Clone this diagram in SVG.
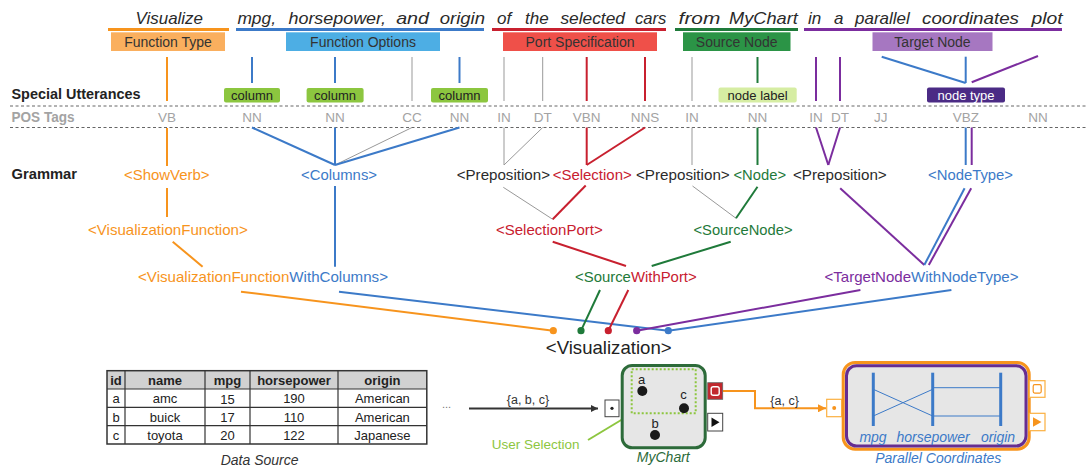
<svg xmlns="http://www.w3.org/2000/svg" width="1088" height="470" viewBox="0 0 1088 470">
<defs>
<style>
text{font-family:"Liberation Sans",Arial,sans-serif;}
.w{font-size:17px;font-style:italic;fill:#2a2a2a;}
.lb{font-size:14px;fill:#333;text-anchor:middle;}
.hd{font-size:14px;font-weight:bold;fill:#222;}
.pos{font-size:13.5px;fill:#a3a3a3;text-anchor:middle;}
.ut{font-size:13px;fill:#222;text-anchor:middle;}
.g{font-size:14.5px;}
.tb{font-size:13px;fill:#222;text-anchor:middle;}
.tbh{font-size:13px;font-weight:bold;fill:#222;text-anchor:middle;}
.o{stroke:#F7941D;}
.b{stroke:#3C7AC8;}
.r{stroke:#C8202F;}
.gr{stroke:#1F7A3A;}
.p{stroke:#7B2D9E;}
.k{stroke:#999;stroke-width:1;}
.cn line{stroke-width:2;fill:none;}
.cn line.k{stroke-width:1;}
.fo{fill:#F7941D;}.fb{fill:#3C7AC8;}.fr{fill:#C8202F;}.fg{fill:#1F7A3A;}.fp{fill:#7B2D9E;}.fd{fill:#2b2b2b;}
</style>
<marker id="ah" viewBox="0 0 10 10" refX="10" refY="5" markerWidth="7" markerHeight="7" orient="auto" markerUnits="userSpaceOnUse"><path d="M0,0L10,5L0,10z" fill="#333"/></marker>
<marker id="aho" viewBox="0 0 10 10" refX="10" refY="5" markerWidth="8" markerHeight="8" orient="auto" markerUnits="userSpaceOnUse"><path d="M0,0L10,5L0,10z" fill="#F7941D"/></marker>
</defs>

<!-- sentence -->
<g id="sentence">
<text class="w" x="135.6" y="24" textLength="67.4" lengthAdjust="spacingAndGlyphs">Visualize</text>
<text class="w" x="237.4" y="24" textLength="38.6" lengthAdjust="spacingAndGlyphs">mpg,</text>
<text class="w" x="288.5" y="24" textLength="97.5" lengthAdjust="spacingAndGlyphs">horsepower,</text>
<text class="w" x="396.2" y="24" textLength="32.8" lengthAdjust="spacingAndGlyphs">and</text>
<text class="w" x="439.7" y="24" textLength="45.3" lengthAdjust="spacingAndGlyphs">origin</text>
<text class="w" x="497" y="24">of</text>
<text class="w" x="525" y="24">the</text>
<text class="w" x="560.4" y="24" textLength="64.6" lengthAdjust="spacingAndGlyphs">selected</text>
<text class="w" x="635" y="24" textLength="31.4" lengthAdjust="spacingAndGlyphs">cars</text>
<text class="w" x="678.6" y="24" textLength="41.7" lengthAdjust="spacingAndGlyphs">from</text>
<text class="w" x="729" y="24" textLength="68.8" lengthAdjust="spacingAndGlyphs">MyChart</text>
<text class="w" x="808" y="24">in</text>
<text class="w" x="834" y="24">a</text>
<text class="w" x="855" y="24">parallel</text>
<text class="w" x="922" y="24" textLength="97" lengthAdjust="spacingAndGlyphs">coordinates</text>
<text class="w" x="1031.4" y="24" textLength="31.2" lengthAdjust="spacingAndGlyphs">plot</text>
<rect x="108" y="28" width="121" height="3" fill="#F7941D"/>
<rect x="236" y="28" width="248" height="3" fill="#3C7AC8"/>
<rect x="492" y="28" width="174" height="3" fill="#C8202F"/>
<rect x="675" y="28" width="123" height="3" fill="#1F7A3A"/>
<rect x="804" y="28" width="258" height="3" fill="#7B2D9E"/>
</g>

<g id="label-function-type"><rect x="111" y="32.3" width="114" height="18.7" fill="#FAAF5E"/><text class="lb" x="168" y="46.5">Function Type</text></g>
<g id="label-function-options"><rect x="286" y="32.3" width="154" height="18.7" fill="#4DAEE4"/><text class="lb" x="363" y="46.5">Function Options</text></g>
<g id="label-port-specification"><rect x="503" y="32.3" width="154" height="18.7" fill="#EF5049"/><text class="lb" x="580" y="46.5">Port Specification</text></g>
<g id="label-source-node"><rect x="683" y="32.3" width="107.5" height="18.7" fill="#2B9446"/><text class="lb" x="736.7" y="46.5">Source Node</text></g>
<g id="label-target-node"><rect x="872.5" y="32.3" width="120" height="18.7" fill="#A677C1"/><text class="lb" x="932.5" y="46.5">Target Node</text></g>

<!-- row headers -->
<g id="row-headers">
<text class="hd" x="11.5" y="99" textLength="129" lengthAdjust="spacingAndGlyphs">Special Utterances</text>
<text class="hd" x="11.5" y="122" style="fill:#a3a3a3" textLength="63" lengthAdjust="spacingAndGlyphs">POS Tags</text>
<text class="hd" x="11.5" y="179" textLength="65.5" lengthAdjust="spacingAndGlyphs">Grammar</text>
<line x1="10" y1="106" x2="1088" y2="106" stroke="#666" stroke-width="1" stroke-dasharray="3 2.5"/>
<line x1="10" y1="127.5" x2="1088" y2="127.5" stroke="#666" stroke-width="1" stroke-dasharray="3 2.5"/>
</g>

<!-- special utterances -->
<g id="utt-column-1"><rect x="224" y="88" width="56" height="14.5" rx="2" fill="#8CC63F"/><text class="ut" x="252" y="99.5">column</text></g>
<g id="utt-column-2"><rect x="306.6" y="88" width="57" height="14.5" rx="2" fill="#8CC63F"/><text class="ut" x="335" y="99.5">column</text></g>
<g id="utt-column-3"><rect x="431" y="88" width="57" height="14.5" rx="2" fill="#8CC63F"/><text class="ut" x="459.5" y="99.5">column</text></g>
<g id="utt-node-label"><rect x="718.5" y="87.5" width="78.2" height="15" rx="2" fill="#D6EDA3"/><text class="ut" x="757.6" y="99.5">node label</text></g>
<g id="utt-node-type"><rect x="927" y="87.5" width="78" height="15" rx="2" fill="#4B2B85"/><text class="ut" x="966" y="99.5" style="fill:#fff">node type</text></g>

<!-- POS tags -->
<g id="pos-tags">
<text class="pos" x="167" y="122">VB</text>
<text class="pos" x="252" y="122">NN</text>
<text class="pos" x="335" y="122">NN</text>
<text class="pos" x="412" y="122">CC</text>
<text class="pos" x="459.5" y="122">NN</text>
<text class="pos" x="504" y="122">IN</text>
<text class="pos" x="542.7" y="122">DT</text>
<text class="pos" x="586.7" y="122">VBN</text>
<text class="pos" x="645" y="122">NNS</text>
<text class="pos" x="692" y="122">IN</text>
<text class="pos" x="757.5" y="122">NN</text>
<text class="pos" x="816" y="122">IN</text>
<text class="pos" x="840" y="122">DT</text>
<text class="pos" x="880.7" y="122">JJ</text>
<text class="pos" x="966" y="122">VBZ</text>
<text class="pos" x="1038" y="122">NN</text>
</g>

<!-- grammar nodes -->
<g id="g-showverb"><text class="g fo" x="124" y="180.4" textLength="85.6" lengthAdjust="spacingAndGlyphs">&lt;ShowVerb&gt;</text></g>
<g id="g-columns"><text class="g fb" x="301" y="180.4" textLength="76" lengthAdjust="spacingAndGlyphs">&lt;Columns&gt;</text></g>
<g id="g-preposition-1"><text class="g fd" x="456.7" y="180.4" textLength="93.3" lengthAdjust="spacingAndGlyphs">&lt;Preposition&gt;</text></g>
<g id="g-selection"><text class="g fr" x="552.7" y="180.4" textLength="79" lengthAdjust="spacingAndGlyphs">&lt;Selection&gt;</text></g>
<g id="g-preposition-2"><text class="g fd" x="636" y="180.4" textLength="93.7" lengthAdjust="spacingAndGlyphs">&lt;Preposition&gt;</text></g>
<g id="g-node"><text class="g fg" x="733.5" y="180.4" textLength="52.5" lengthAdjust="spacingAndGlyphs">&lt;Node&gt;</text></g>
<g id="g-preposition-3"><text class="g fd" x="793" y="180.4" textLength="93.7" lengthAdjust="spacingAndGlyphs">&lt;Preposition&gt;</text></g>
<g id="g-nodetype"><text class="g fb" x="928" y="180.4" textLength="85" lengthAdjust="spacingAndGlyphs">&lt;NodeType&gt;</text></g>
<g id="g-visualizationfunction"><text class="g fo" x="88" y="235.2" textLength="159.8" lengthAdjust="spacingAndGlyphs">&lt;VisualizationFunction&gt;</text></g>
<g id="g-selectionport"><text class="g fr" x="496" y="235.2" textLength="106.7" lengthAdjust="spacingAndGlyphs">&lt;SelectionPort&gt;</text></g>
<g id="g-sourcenode"><text class="g fg" x="693.5" y="235.2" textLength="99" lengthAdjust="spacingAndGlyphs">&lt;SourceNode&gt;</text></g>
<g id="g-visfuncwithcolumns"><text class="g" x="138" y="282" textLength="250" lengthAdjust="spacingAndGlyphs"><tspan class="fo">&lt;VisualizationFunction</tspan><tspan class="fb">WithColumns&gt;</tspan></text></g>
<g id="g-sourcewithport"><text class="g" x="575" y="282" textLength="121.7" lengthAdjust="spacingAndGlyphs"><tspan class="fg">&lt;Source</tspan><tspan class="fr">WithPort&gt;</tspan></text></g>
<g id="g-targetnodewithnodetype"><text class="g" x="824.5" y="282" textLength="194" lengthAdjust="spacingAndGlyphs"><tspan class="fp">&lt;TargetNode</tspan><tspan class="fb">WithNodeType&gt;</tspan></text></g>
<g id="g-visualization"><text x="545.8" y="353.5" style="font-size:18.5px;fill:#222" textLength="125.8" lengthAdjust="spacingAndGlyphs">&lt;Visualization&gt;</text></g>

<!-- connectors -->
<g id="connectors" class="cn">
<line class="o" x1="167" y1="57" x2="167" y2="101"/>
<line class="b" x1="252" y1="57" x2="252" y2="83"/>
<line class="b" x1="335" y1="57" x2="335" y2="83"/>
<line class="b" x1="459.5" y1="57" x2="459.5" y2="83"/>
<line class="k" x1="412" y1="57" x2="412" y2="101"/>
<line class="k" x1="504" y1="57" x2="504" y2="101"/>
<line class="k" x1="542.7" y1="57" x2="542.7" y2="101"/>
<line class="k" x1="692" y1="57" x2="692" y2="101"/>
<line class="r" x1="586.7" y1="57" x2="586.7" y2="101"/>
<line class="r" x1="645" y1="57" x2="645" y2="101"/>
<line class="gr" x1="757.5" y1="57" x2="757.5" y2="83"/>
<line class="p" x1="816" y1="57" x2="816" y2="101"/>
<line class="p" x1="840" y1="57" x2="840" y2="101"/>
<line class="b" x1="881.7" y1="56.7" x2="965.7" y2="83"/>
<line class="b" x1="965.7" y1="56.7" x2="965.7" y2="83"/>
<line class="p" x1="971.7" y1="82.3" x2="1038" y2="56"/>

<line class="o" x1="167" y1="128" x2="167" y2="166"/>
<line class="o" x1="167" y1="188" x2="167" y2="217"/>
<line class="o" x1="172.7" y1="241.7" x2="202.6" y2="266.7"/>
<line class="b" x1="252" y1="127.5" x2="335" y2="165"/>
<line class="b" x1="335" y1="127.5" x2="335" y2="165"/>
<line class="k" x1="412" y1="127.5" x2="335" y2="165"/>
<line class="b" x1="459.5" y1="127.5" x2="335" y2="165"/>
<line class="b" x1="335" y1="186" x2="335" y2="266.7"/>
<line class="k" x1="504" y1="127.5" x2="504" y2="165"/>
<line class="k" x1="542.7" y1="127.5" x2="504" y2="165"/>
<line class="r" x1="586.7" y1="127.5" x2="586.7" y2="165"/>
<line class="r" x1="645" y1="127.5" x2="586.7" y2="165"/>
<line class="k" x1="692" y1="127.5" x2="692" y2="165"/>
<line class="gr" x1="757.5" y1="127.5" x2="757.5" y2="165"/>
<line class="p" x1="816" y1="127.5" x2="828.3" y2="165"/>
<line class="p" x1="840" y1="127.5" x2="828.3" y2="165"/>
<line class="b" x1="965.7" y1="127.5" x2="965.7" y2="165"/>
<line class="p" x1="971.7" y1="127.5" x2="971.7" y2="165"/>

<line class="k" x1="503.3" y1="187.3" x2="552.7" y2="219.3"/>
<line class="r" x1="585.7" y1="185.5" x2="552.7" y2="219.3"/>
<line class="k" x1="692.5" y1="186" x2="736" y2="218.3"/>
<line class="gr" x1="757.5" y1="186.7" x2="736" y2="218.3"/>
<line class="p" x1="840.2" y1="188.3" x2="924.3" y2="265"/>
<line class="b" x1="964.6" y1="188.3" x2="924.3" y2="265"/>
<line class="p" x1="971.2" y1="188.3" x2="928.8" y2="265"/>
<line class="r" x1="552.7" y1="241.7" x2="626" y2="266"/>
<line class="gr" x1="730.7" y1="241.7" x2="651.7" y2="266"/>

<line class="o" x1="241" y1="291.7" x2="553.3" y2="330.7"/>
<line class="b" x1="339" y1="291.7" x2="668.3" y2="330.7"/>
<line class="gr" x1="600" y1="290" x2="581" y2="330.7"/>
<line class="r" x1="628.3" y1="290" x2="608.3" y2="330.7"/>
<line class="p" x1="860.4" y1="290" x2="636.7" y2="330.7"/>
<line class="b" x1="951.4" y1="290" x2="668.3" y2="330.7"/>
<circle cx="553.3" cy="330.7" r="3.6" class="fo"/>
<circle cx="581" cy="330.7" r="3.6" class="fg"/>
<circle cx="608.3" cy="330.7" r="3.6" class="fr"/>
<circle cx="636.7" cy="330.7" r="3.6" class="fp"/>
<circle cx="668.3" cy="330.7" r="3.6" class="fb"/>

<line x1="469" y1="408.5" x2="598" y2="408.5" stroke="#333" stroke-width="1" marker-end="url(#ah)"/>
<path d="M722.7,391H755V408.3H826" fill="none" stroke="#F7941D" stroke-width="2" marker-end="url(#aho)"/>
<line x1="588" y1="440" x2="632" y2="413.5" stroke="#8DC63F" stroke-width="1"/>
<text x="528" y="403.5" style="font-size:12.5px;fill:#333;text-anchor:middle">{a, b, c}</text>
<text x="784.6" y="405" style="font-size:12.5px;fill:#333;text-anchor:middle">{a, c}</text>
<text x="446.6" y="408" style="font-size:11px;fill:#777;text-anchor:middle">...</text>
</g>

<!-- data source table -->
<g id="data-source">
<rect x="107" y="370.7" width="319.8" height="18.3" fill="#D1D1D1"/>
<rect x="107" y="370.7" width="319.8" height="73.3" fill="none" stroke="#333" stroke-width="1.5"/>
<g stroke="#333" stroke-width="1.2">
<line x1="107" y1="389" x2="426.8" y2="389"/>
<line x1="107" y1="407.3" x2="426.8" y2="407.3"/>
<line x1="107" y1="425.7" x2="426.8" y2="425.7"/>
<line x1="125" y1="370.7" x2="125" y2="444"/>
<line x1="205" y1="370.7" x2="205" y2="444"/>
<line x1="250" y1="370.7" x2="250" y2="444"/>
<line x1="338" y1="370.7" x2="338" y2="444"/>
</g>
<text class="tbh" x="116" y="385">id</text>
<text class="tbh" x="165" y="385">name</text>
<text class="tbh" x="227.5" y="385">mpg</text>
<text class="tbh" x="294" y="385">horsepower</text>
<text class="tbh" x="382.4" y="385">origin</text>
<text class="tb" x="116" y="403">a</text><text class="tb" x="165" y="403">amc</text><text class="tb" x="227.5" y="403.5">15</text><text class="tb" x="294" y="403">190</text><text class="tb" x="382.4" y="403">American</text>
<text class="tb" x="116" y="421.5">b</text><text class="tb" x="165" y="421.5">buick</text><text class="tb" x="227.5" y="422">17</text><text class="tb" x="294" y="421.5">110</text><text class="tb" x="382.4" y="421.5">American</text>
<text class="tb" x="116" y="440">c</text><text class="tb" x="165" y="440">toyota</text><text class="tb" x="227.5" y="440">20</text><text class="tb" x="294" y="440">122</text><text class="tb" x="382.4" y="440">Japanese</text>
<text x="259.6" y="465" style="font-size:14px;font-style:italic;fill:#333;text-anchor:middle">Data Source</text>
</g>

<!-- MyChart node -->
<g id="mychart">
<rect x="605" y="400" width="14" height="16.7" fill="#fff" stroke="#444" stroke-width="1"/>
<circle cx="612" cy="408.3" r="1.6" fill="#222"/>
<rect x="622.2" y="365.5" width="83" height="82.3" rx="10" fill="#E6E6E6" stroke="#2D6B3A" stroke-width="3"/>
<rect x="631.7" y="369.3" width="64" height="44" fill="none" stroke="#8DC63F" stroke-width="2" stroke-dasharray="2 2"/>
<circle cx="642.3" cy="391" r="5" fill="#1a1a1a"/>
<circle cx="684" cy="408.3" r="5" fill="#1a1a1a"/>
<circle cx="655" cy="435" r="5" fill="#1a1a1a"/>
<text x="641.7" y="384" style="font-size:13px;fill:#222;text-anchor:middle">a</text>
<text x="683.5" y="399" style="font-size:13px;fill:#222;text-anchor:middle">c</text>
<text x="655" y="427.5" style="font-size:13px;fill:#222;text-anchor:middle">b</text>
<rect x="707.7" y="382.7" width="15" height="16.6" fill="#C1272D" stroke="#666" stroke-width="0.8"/>
<rect x="711.2" y="386.8" width="8" height="8.4" rx="2" fill="none" stroke="#fff" stroke-width="1.4"/>
<rect x="707.7" y="413.3" width="15" height="17.7" fill="#fff" stroke="#444" stroke-width="1"/>
<path d="M711.5,417.5L719.5,422.2L711.5,427z" fill="#111"/>
<text x="663.3" y="461.7" style="font-size:14px;font-style:italic;fill:#2D6B3A;text-anchor:middle">MyChart</text>
<text x="491.8" y="449" style="font-size:13.5px;fill:#8DC63F">User Selection</text>
</g>

<!-- Parallel Coordinates node -->
<g id="parallel-coordinates">
<rect x="826.7" y="399.3" width="15" height="17.4" fill="#fff" stroke="#FBB040" stroke-width="1.2"/>
<circle cx="834.2" cy="408" r="2" fill="#F7941D"/>
<rect x="843.2" y="362.5" width="186" height="86.7" rx="12" fill="#E6E6E6" stroke="#F7941D" stroke-width="3"/>
<rect x="846.5" y="365.7" width="179.5" height="80.3" rx="10" fill="#E6E6E6" stroke="#662D91" stroke-width="3"/>
<rect x="1029.3" y="380.7" width="15.7" height="16.6" fill="#fff" stroke="#FBB040" stroke-width="1.2"/>
<rect x="1033.2" y="384.7" width="8" height="8.4" rx="1.5" fill="none" stroke="#F7941D" stroke-width="1.2"/>
<rect x="1029.3" y="413.3" width="15.7" height="17.4" fill="#fff" stroke="#FBB040" stroke-width="1.2"/>
<path d="M1033,417.3L1041.5,422L1033,426.7z" fill="#F7941D"/>
<g stroke="#3C7AC8">
<line x1="873.3" y1="372.7" x2="873.3" y2="426" stroke-width="3"/>
<line x1="932.7" y1="372.7" x2="932.7" y2="426" stroke-width="3"/>
<line x1="1000.7" y1="372.7" x2="1000.7" y2="426" stroke-width="3"/>
<line x1="873.3" y1="389.3" x2="932.7" y2="416" stroke-width="1"/>
<line x1="873.3" y1="416" x2="932.7" y2="389.3" stroke-width="1"/>
<line x1="932.7" y1="387.7" x2="1000.7" y2="387.7" stroke-width="1"/>
<line x1="932.7" y1="416" x2="1000.7" y2="416" stroke-width="1"/>
</g>
<text x="873" y="441.7" style="font-size:14px;font-style:italic;fill:#3C7AC8;text-anchor:middle">mpg</text>
<text x="933" y="441.7" style="font-size:14px;font-style:italic;fill:#3C7AC8;text-anchor:middle">horsepower</text>
<text x="998" y="441.7" style="font-size:14px;font-style:italic;fill:#3C7AC8;text-anchor:middle">origin</text>
<text x="938.3" y="463.3" style="font-size:14px;font-style:italic;fill:#3C7AC8;text-anchor:middle">Parallel Coordinates</text>
</g>
</svg>
